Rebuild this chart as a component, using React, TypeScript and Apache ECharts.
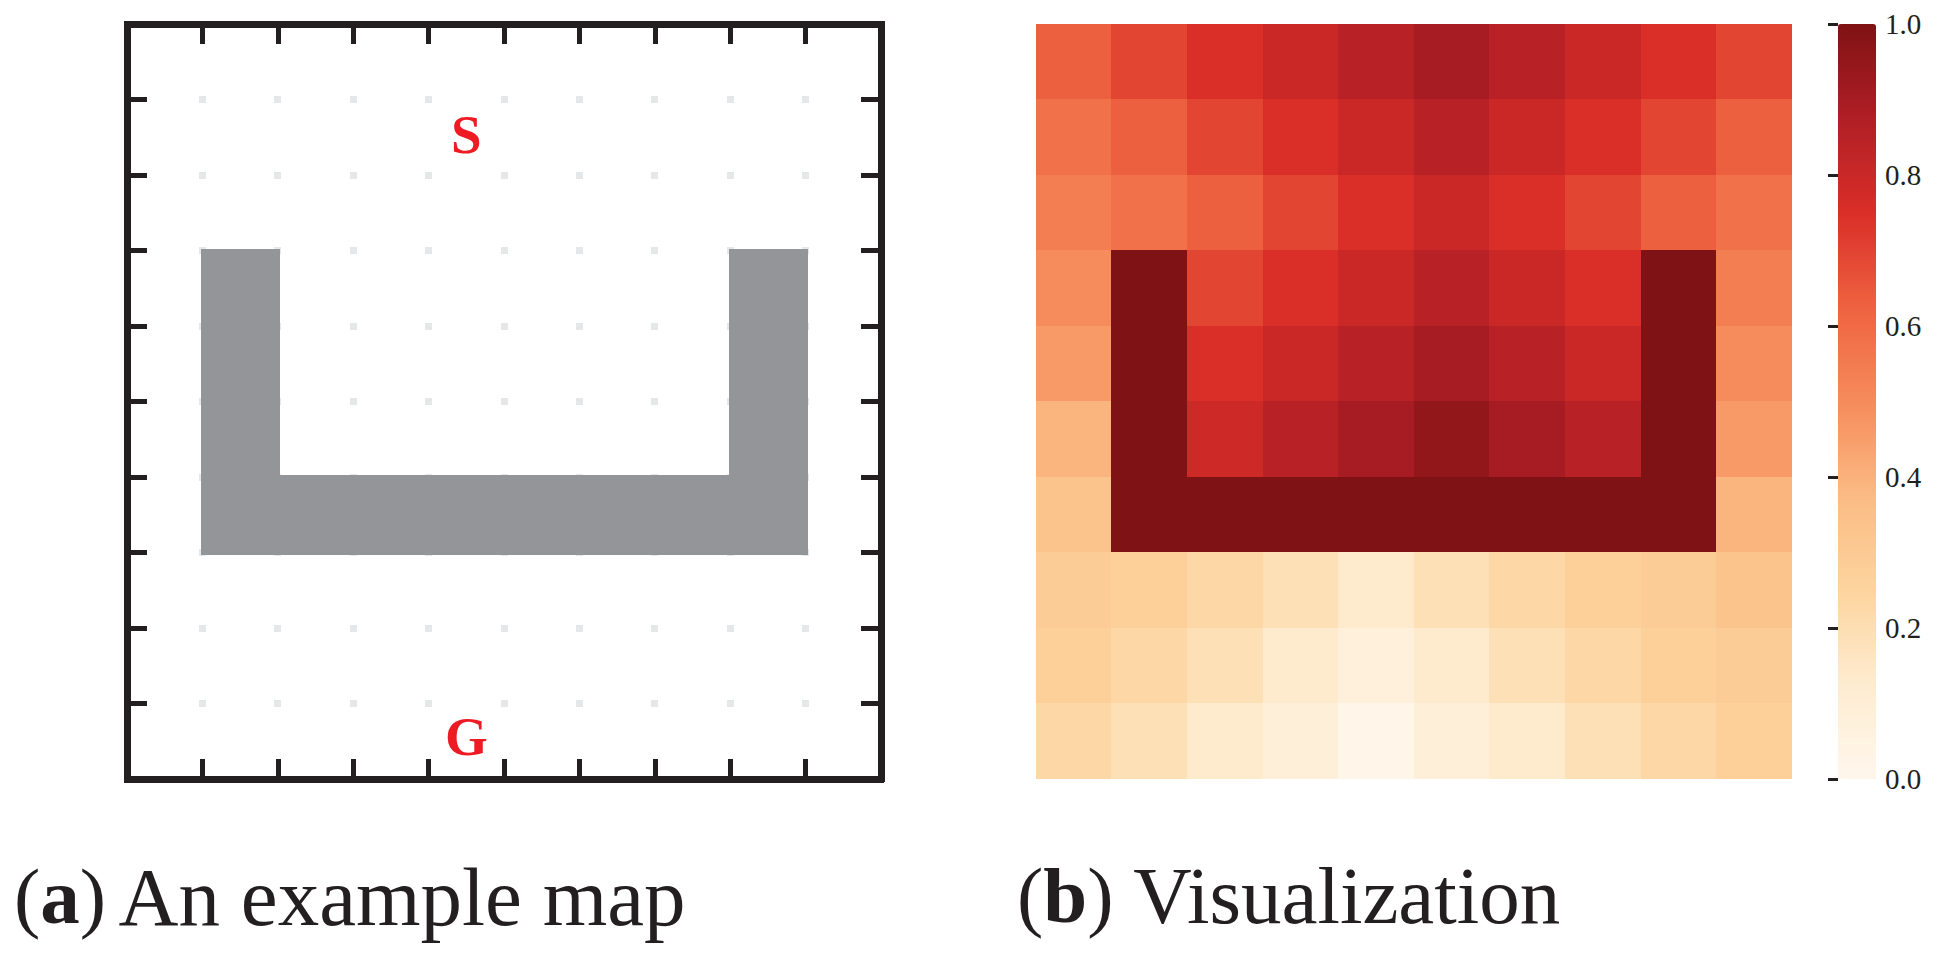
import React, { useEffect, useRef } from "react";
import * as echarts from "echarts";

const gridLines = [1, 2, 3, 4, 5, 6, 7, 8, 9];
const wallCells = [
  [1, 3], [8, 3], [1, 4], [8, 4], [1, 5], [8, 5],
  [1, 6], [2, 6], [3, 6], [4, 6], [5, 6], [6, 6], [7, 6], [8, 6],
];
const mapLetters = [
  { name: "S", value: [4.5, 1.46] },
  { name: "G", value: [4.5, 9.44] },
];
const heatCategories = ["0", "1", "2", "3", "4", "5", "6", "7", "8", "9"];
const heatRows = [
  [0.63, 0.695, 0.75, 0.8, 0.85, 0.9, 0.85, 0.8, 0.75, 0.695],
  [0.58, 0.63, 0.695, 0.75, 0.8, 0.85, 0.8, 0.75, 0.695, 0.63],
  [0.54, 0.58, 0.63, 0.695, 0.75, 0.8, 0.75, 0.695, 0.63, 0.58],
  [0.5, 1, 0.695, 0.75, 0.8, 0.85, 0.8, 0.75, 1, 0.54],
  [0.46, 1, 0.75, 0.8, 0.85, 0.9, 0.85, 0.8, 1, 0.5],
  [0.39, 1, 0.79, 0.85, 0.9, 0.955, 0.9, 0.85, 1, 0.46],
  [0.33, 1, 1, 1, 1, 1, 1, 1, 1, 0.39],
  [0.29, 0.27, 0.23, 0.19, 0.13, 0.19, 0.23, 0.27, 0.29, 0.33],
  [0.27, 0.23, 0.19, 0.13, 0.08, 0.13, 0.19, 0.23, 0.27, 0.29],
  [0.23, 0.19, 0.13, 0.09, 0.02, 0.09, 0.13, 0.19, 0.23, 0.27],
];
const colorStops = ["#fff7ec", "#feecd0", "#fdd49e", "#fbbb84", "#f68b5b", "#ee6240", "#da2e28", "#b01f25", "#7f1214"];

const INK = "#231f20";
const SERIF = "'Liberation Serif', serif";

function frameAxis(position: string, gridIndex = 0, inverse = false) {
  return {
    type: "value",
    gridIndex,
    position,
    min: 0,
    max: 10,
    interval: 1,
    inverse,
    axisLine: { show: true, onZero: false, lineStyle: { color: INK, width: 6.5, cap: "square" } },
    axisTick: { show: true, inside: true, length: 20, lineStyle: { color: INK, width: 5 } },
    axisLabel: { show: false },
    splitLine: { show: false },
    z: 5,
  };
}

export default function App() {
  const ref = useRef<HTMLDivElement>(null);
  useEffect(() => {
    document.body.style.margin = "0";
    const chart = echarts.init(ref.current!, null, { renderer: "svg" });
    const dots: number[][] = [];
    gridLines.forEach((x) => gridLines.forEach((y) => dots.push([x, y])));
    const heatData: number[][] = [];
    heatRows.forEach((row, r) => row.forEach((v, c) => heatData.push([c, r, v])));

    const capBold = { fontWeight: "bold", fontFamily: SERIF, fontSize: 79, fill: INK };
    chart.setOption({
      animation: false,
      backgroundColor: "#ffffff",
      grid: [
        { left: 127, top: 24, width: 754, height: 755 },
        { left: 1036, top: 24, width: 756, height: 755 },
        { left: 1838, top: 24, width: 38, height: 755 },
      ],
      xAxis: [
        frameAxis("bottom"),
        frameAxis("top"),
        { type: "category", gridIndex: 1, data: heatCategories, show: false },
        { type: "value", gridIndex: 2, show: false, min: 0, max: 1 },
      ],
      yAxis: [
        frameAxis("left", 0, true),
        frameAxis("right", 0, true),
        { type: "category", gridIndex: 1, data: heatCategories, show: false, inverse: true },
        {
          type: "value",
          gridIndex: 2,
          position: "right",
          min: 0,
          max: 1,
          interval: 0.2,
          z: 8,
          axisLine: { show: false },
          axisTick: { show: true, inside: true, length: 10, lineStyle: { color: INK, width: 3 } },
          axisLabel: {
            show: true,
            margin: 9,
            color: INK,
            fontFamily: SERIF,
            fontSize: 29,
            formatter: (v: number) => v.toFixed(1),
          },
          splitLine: { show: false },
        },
      ],
      visualMap: {
        type: "continuous",
        seriesIndex: 3,
        min: 0,
        max: 1,
        left: 1838,
        top: 24,
        padding: 0,
        itemWidth: 38,
        itemHeight: 755,
        calculable: false,
        hoverLink: false,
        showLabel: false,
        text: null,
        z: 1,
        inRange: { color: colorStops },
      },
      series: [
        {
          type: "scatter",
          xAxisIndex: 0,
          yAxisIndex: 0,
          z: 1,
          symbol: "rect",
          symbolSize: [7, 7],
          silent: true,
          itemStyle: { color: "#e6e7e8", opacity: 1 },
          data: dots,
        },
        {
          type: "custom",
          xAxisIndex: 0,
          yAxisIndex: 0,
          z: 2,
          silent: true,
          data: wallCells,
          renderItem: (_: any, api: any) => {
            const p0 = api.coord([api.value(0), api.value(1)]);
            const p1 = api.coord([api.value(0) + 1, api.value(1) + 1]);
            const padLeft = 1.5;
            const padRight = 2.5;
            const padY = 2;
            return {
              type: "rect",
              shape: {
                x: p0[0] - padLeft,
                y: p0[1] - padY,
                width: p1[0] - p0[0] + padLeft + padRight,
                height: p1[1] - p0[1] + 2 * padY,
              },
              style: { fill: "#939598" },
            };
          },
        },
        {
          type: "scatter",
          xAxisIndex: 0,
          yAxisIndex: 0,
          z: 3,
          symbolSize: 0,
          silent: true,
          itemStyle: { opacity: 1 },
          label: {
            show: true,
            position: "inside",
            formatter: "{b}",
            color: "#ed1c24",
            fontFamily: SERIF,
            fontWeight: "bold",
            fontSize: 55,
          },
          data: mapLetters,
        },
        {
          type: "heatmap",
          xAxisIndex: 2,
          yAxisIndex: 2,
          silent: true,
          data: heatData,
        },
      ],
      graphic: [
        {
          type: "text",
          x: 14,
          y: 855,
          silent: true,
          style: {
            text: "({b|a}){s| }{n|An example map}",
            fill: INK,
            fontFamily: SERIF,
            fontSize: 79,
            rich: {
              b: capBold,
              s: { fontFamily: SERIF, fontSize: 50, fill: INK },
              n: { fontFamily: SERIF, fontSize: 83, fill: INK },
            },
          },
        },
        {
          type: "text",
          x: 1017,
          y: 855,
          silent: true,
          style: {
            text: "({b|b}) {n|Visualization}",
            fill: INK,
            fontFamily: SERIF,
            fontSize: 79,
            rich: {
              b: capBold,
              n: { fontFamily: SERIF, fontSize: 81, fill: INK },
            },
          },
        },
      ],
    });
    return () => chart.dispose();
  }, []);
  return (
    <div
      ref={ref}
      style={{ position: "absolute", left: 0, top: 0, width: 1945, height: 962, shapeRendering: "crispEdges" }}
    />
  );
}
